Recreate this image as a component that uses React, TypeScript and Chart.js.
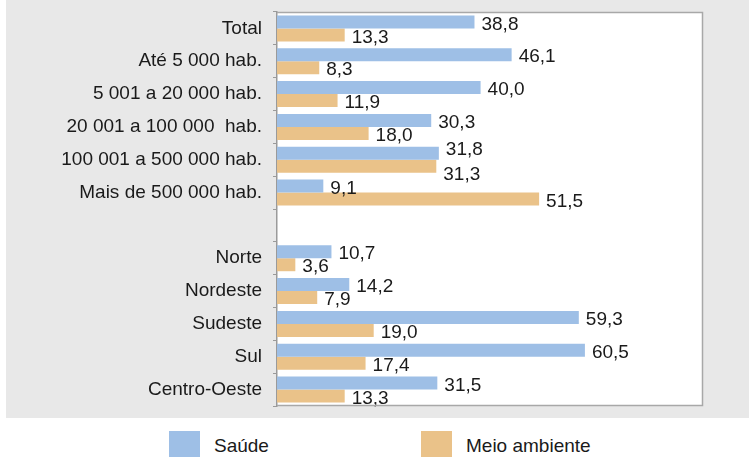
import React, { useEffect, useRef } from "react";
import { Chart, registerables } from "chart.js";

Chart.register(...registerables);

const categories = [
  "Total",
  "Até 5 000 hab.",
  "5 001 a 20 000 hab.",
  "20 001 a 100 000  hab.",
  "100 001 a 500 000 hab.",
  "Mais de 500 000 hab.",
  "",
  "Norte",
  "Nordeste",
  "Sudeste",
  "Sul",
  "Centro-Oeste",
];

const saude = [38.8, 46.1, 40.0, 30.3, 31.8, 9.1, null, 10.7, 14.2, 59.3, 60.5, 31.5];
const meioAmbiente = [13.3, 8.3, 11.9, 18.0, 31.3, 51.5, null, 3.6, 7.9, 19.0, 17.4, 13.3];

const seriesNames = ["Saúde", "Meio ambiente"];
const seriesColors = ["#9ebfe6", "#eac289"];

const FONT = "'Liberation Sans', Arial, sans-serif";
const FONT_SIZE = 19;
const TEXT_COLOR = "#1a1a1a";

const plotBgPlugin = {
  id: "plotBg",
  beforeDraw(chart: any) {
    const { ctx, chartArea } = chart;
    ctx.save();
    ctx.fillStyle = "#ffffff";
    ctx.fillRect(chartArea.left, chartArea.top, chartArea.right - chartArea.left, chartArea.bottom - chartArea.top);
    ctx.restore();
  },
  afterDraw(chart: any) {
    const { ctx, chartArea } = chart;
    ctx.save();
    ctx.strokeStyle = "#a8a8a8";
    ctx.lineWidth = 1.5;
    ctx.beginPath();
    ctx.moveTo(chartArea.left, chartArea.top + 0.5);
    ctx.lineTo(chartArea.right - 0.5, chartArea.top + 0.5);
    ctx.lineTo(chartArea.right - 0.5, chartArea.bottom - 0.5);
    ctx.lineTo(chartArea.left, chartArea.bottom - 0.5);
    ctx.stroke();
    ctx.restore();
  },
};

const fmt = (v: number) => v.toFixed(1).replace(".", ",");

const valueLabelPlugin = {
  id: "valueLabels",
  afterDatasetsDraw(chart: any) {
    const { ctx } = chart;
    ctx.save();
    ctx.font = `${FONT_SIZE}px ${FONT}`;
    ctx.fillStyle = TEXT_COLOR;
    ctx.textAlign = "left";
    ctx.textBaseline = "middle";
    const gap = 7;
    const m0 = chart.getDatasetMeta(0);
    const m1 = chart.getDatasetMeta(1);
    const d0 = chart.data.datasets[0].data;
    const d1 = chart.data.datasets[1].data;
    for (let i = 0; i < categories.length; i++) {
      const v0 = d0[i];
      const v1 = d1[i];
      if (v0 === null || v1 === null) continue;
      const b0 = m0.data[i];
      const b1 = m1.data[i];
      const t0 = fmt(v0);
      const t1 = fmt(v1);
      const x0 = b0.x + gap;
      const x1 = b1.x + gap;
      const w0 = ctx.measureText(t0).width;
      const w1 = ctx.measureText(t1).width;
      const overlap = x0 < x1 + w1 + 2 && x1 < x0 + w0 + 2;
      const shift = overlap ? 6 : 0;
      ctx.fillText(t0, x0, b0.y + 2.5 - shift);
      ctx.fillText(t1, x1, b1.y + 2.5 + shift);
    }
    ctx.restore();
  },
};

export default function App() {
  const canvasRef = useRef<HTMLCanvasElement | null>(null);

  useEffect(() => {
    if (!canvasRef.current) return;
    const chart = new Chart(canvasRef.current, {
      type: "bar",
      data: {
        labels: categories,
        datasets: [
          {
            label: seriesNames[0],
            data: saude,
            backgroundColor: seriesColors[0],
            borderWidth: 0,
          },
          {
            label: seriesNames[1],
            data: meioAmbiente,
            backgroundColor: seriesColors[1],
            borderWidth: 0,
          },
        ],
      },
      options: {
        indexAxis: "y",
        responsive: false,
        animation: false,
        maintainAspectRatio: false,
        layout: { padding: { left: 0, top: 12, right: 46, bottom: 12 } },
        datasets: {
          bar: { categoryPercentage: 0.79, barPercentage: 1.0 },
        },
        plugins: {
          legend: { display: false },
          tooltip: { enabled: false },
        },
        scales: {
          x: {
            display: false,
            min: 0,
            max: 83.7,
          },
          y: {
            afterFit: (scale: any) => {
              scale.width = 271;
              scale.paddingTop = 0;
              scale.paddingBottom = 0;
            },
            grid: {
              drawOnChartArea: false,
              drawTicks: true,
              tickLength: 4,
              color: "#9a9a9a",
              offset: true,
            },
            border: { display: true, color: "#9a9a9a", width: 1.5 },
            ticks: {
              padding: 11,
              color: TEXT_COLOR,
              font: { family: FONT, size: FONT_SIZE },
              autoSkip: false,
            },
          },
        },
      },
      plugins: [plotBgPlugin, valueLabelPlugin],
    });
    return () => chart.destroy();
  }, []);

  return (
    <div
      style={{
        position: "absolute",
        left: 0,
        top: 0,
        width: 749,
        height: 457,
        background: "#ffffff",
        overflow: "hidden",
        fontFamily: FONT,
      }}
    >
      <div
        style={{
          position: "absolute",
          left: 6,
          top: 0,
          width: 743,
          height: 418,
          background: "#e8e8e8",
        }}
      >
        <canvas ref={canvasRef} width={743} height={418} style={{ width: 743, height: 418, display: "block" }} />
      </div>
      <div
        style={{
          position: "absolute",
          left: 169,
          top: 431,
          display: "flex",
          alignItems: "center",
          height: 26,
        }}
      >
        {seriesNames.map((name, i) => (
          <div
            key={name}
            style={{
              display: "flex",
              alignItems: "center",
              width: i === 0 ? 252 : "auto",
            }}
          >
            <div style={{ width: 31, height: 26, background: seriesColors[i] }} />
            <span
              style={{
                marginLeft: 14,
                fontSize: FONT_SIZE,
                color: TEXT_COLOR,
                lineHeight: "26px",
                position: "relative",
                top: 2,
              }}
            >
              {name}
            </span>
          </div>
        ))}
      </div>
    </div>
  );
}
